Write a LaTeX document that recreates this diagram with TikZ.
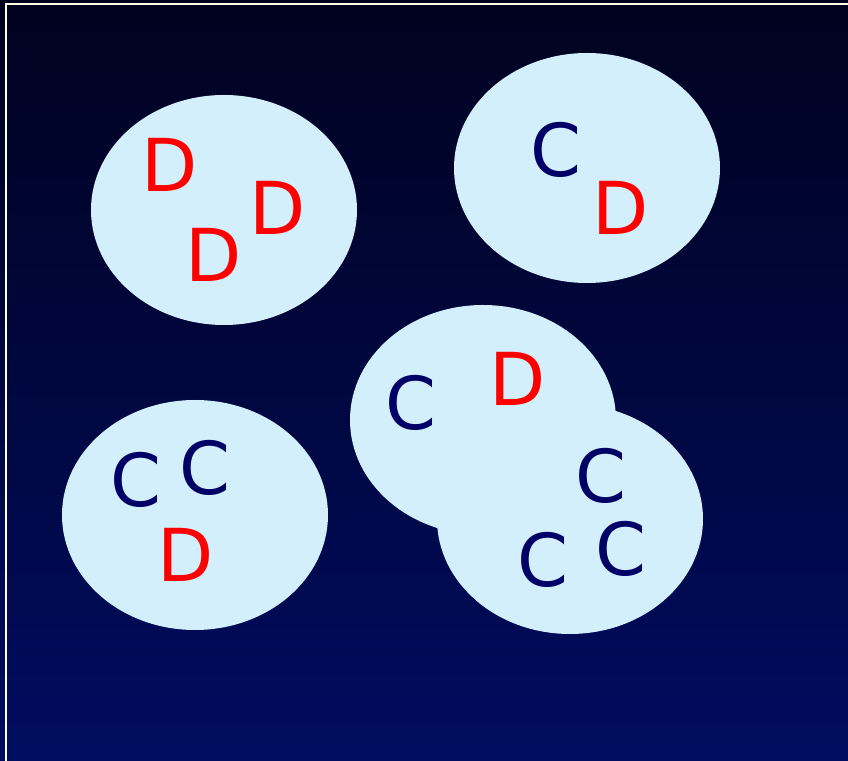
\documentclass[tikz,border=0pt]{standalone}
\usepackage{fontspec}
\setmainfont{DejaVu Sans}
\usepackage{tikz}
\usetikzlibrary{calc,positioning}
\definecolor{bgTop}{HTML}{00021E}
\definecolor{bgBottom}{HTML}{000C60}
\definecolor{blobFill}{HTML}{D4EFFC}
\definecolor{frameCream}{HTML}{FFFFE4}
\definecolor{letterC}{HTML}{000066}
\definecolor{letterD}{HTML}{FF0000}

\begin{document}
\begin{tikzpicture}[
  x=0.5pt, y=0.5pt,
  every node/.style={font=\fontsize{36.5}{40}\selectfont, inner sep=0pt, anchor=center},
  cnode/.style={text=letterC},
  dnode/.style={text=letterD},
]

% --- Background ---
\useasboundingbox (0,0) rectangle (848,761);
\shade[top color=bgTop, bottom color=bgBottom] (0,0) rectangle (848,761);
\draw[frameCream, line width=1pt] (6,-10) -- (6,757) -- (860,757);

% --- Groups (ellipses) ---
\foreach \cx/\cy in {224/551, 587/593, 195/246, 483/341, 570/242} {
  \fill[blobFill] (\cx,\cy) ellipse [x radius=133, y radius=115];
}

% --- Top left group ---
\node[dnode] (d1) at (170,596) {D};
\node[dnode] (d2) at (278,553) {D};
\node[dnode] (d3) at (214,506) {D};

% --- Top right group ---
\node[cnode] (c1) at (556,611) {C};
\node[dnode] (d4) at (621,553) {D};

% --- Bottom left group ---
\node[cnode] (c2) at (136,281) {C};
\node[cnode] (c3) at (205,293) {C};
\node[dnode] (d5) at (186,206) {D};

% --- Overlapping groups ---
\node[cnode] (c4) at (411,358) {C};
\node[dnode] (d6) at (518,382) {D};
\node[cnode] (c5) at (601,285) {C};
\node[cnode] (c6) at (543,201) {C};
\node[cnode] (c7) at (621,212) {C};

\end{tikzpicture}
\end{document}
